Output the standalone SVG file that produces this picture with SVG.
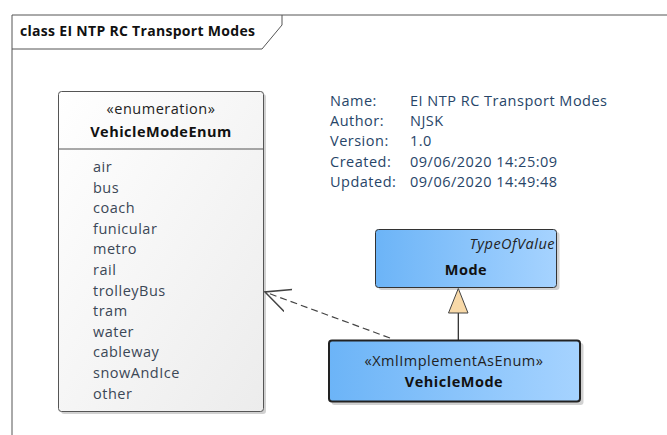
<svg xmlns="http://www.w3.org/2000/svg" width="667" height="435" viewBox="0 0 667 435">
<defs>
<linearGradient id="gEnum" x1="0" y1="0" x2="1" y2="1"><stop offset="0" stop-color="#ffffff"/><stop offset="1" stop-color="#ececec"/></linearGradient>
<linearGradient id="gBlue" x1="0" y1="0" x2="1" y2="0"><stop offset="0" stop-color="#6cb4f7"/><stop offset="1" stop-color="#a6d3ff"/></linearGradient>
<marker id="open" viewBox="0 0 20 20" refX="19" refY="10" markerWidth="26" markerHeight="26" markerUnits="userSpaceOnUse" orient="auto">
<path d="M0,1 L19,10 L0,19" fill="none" stroke="#444" stroke-width="1.2"/>
</marker>
</defs>
<style>
text{font-family:"Open Sans","Liberation Sans",sans-serif;font-size:14.5px;letter-spacing:0.5px}
.b{font-weight:bold}
.attr{fill:#3b4756}
.note{fill:#274568}
.c{text-anchor:middle}
.shadow{fill:#000;opacity:0.18}
</style>
<rect width="667" height="435" fill="#ffffff"/>
<g id="frame">
<path d="M12,435 L12,15 L667,15" fill="none" stroke="#555" stroke-width="1"/>
<path d="M12,49 L262,49 L282,25 L282,15" fill="none" stroke="#555" stroke-width="1"/>
<text x="20" y="36" class="b" style="font-size:14px;letter-spacing:0.3px;fill:#111">class EI NTP RC Transport Modes</text>
</g>
<g id="notes">
<text class="note" x="330" y="106">Name:</text><text class="note" x="410" y="106">EI NTP RC Transport Modes</text>
<text class="note" x="330" y="126">Author:</text><text class="note" x="410" y="126">NJSK</text>
<text class="note" x="330" y="146">Version:</text><text class="note" x="410" y="146">1.0</text>
<text class="note" x="330" y="167">Created:</text><text class="note" x="410" y="167">09/06/2020 14:25:09</text>
<text class="note" x="330" y="187">Updated:</text><text class="note" x="410" y="187">09/06/2020 14:49:48</text>
</g>
<g id="VehicleModeEnum">
<rect x="61" y="94" width="205" height="320" rx="3" class="shadow"/>
<rect x="58.5" y="91.5" width="205" height="320" rx="3" fill="url(#gEnum)" stroke="#555" stroke-width="1"/>
<line x1="58.5" y1="149" x2="263.5" y2="149" stroke="#555" stroke-width="1"/>
<text x="161" y="114" class="c" style="fill:#222">«enumeration»</text>
<text x="161" y="137" class="c b" style="fill:#111">VehicleModeEnum</text>
<text class="attr" x="93" y="172">air</text>
<text class="attr" x="93" y="192.6">bus</text>
<text class="attr" x="93" y="213.2">coach</text>
<text class="attr" x="93" y="233.8">funicular</text>
<text class="attr" x="93" y="254.4">metro</text>
<text class="attr" x="93" y="275">rail</text>
<text class="attr" x="93" y="295.6">trolleyBus</text>
<text class="attr" x="93" y="316.2">tram</text>
<text class="attr" x="93" y="336.8">water</text>
<text class="attr" x="93" y="357.4">cableway</text>
<text class="attr" x="93" y="378">snowAndIce</text>
<text class="attr" x="93" y="398.6">other</text>
</g>
<g id="Mode">
<rect x="378.5" y="232" width="181" height="58" rx="3" class="shadow"/>
<rect x="375.5" y="229.5" width="181" height="58" rx="3" fill="url(#gBlue)" stroke="#333" stroke-width="1"/>
<text x="555" y="249" style="font-style:italic;text-anchor:end;fill:#222">TypeOfValue</text>
<text x="466" y="275" class="c b" style="fill:#111">Mode</text>
</g>
<g id="VehicleMode">
<rect x="331.5" y="343" width="252" height="62" rx="3" class="shadow"/>
<rect x="329" y="340.5" width="251" height="61" rx="3" fill="url(#gBlue)" stroke="#222" stroke-width="2"/>
<text x="454" y="366" class="c" style="fill:#222">«XmlImplementAsEnum»</text>
<text x="454" y="387" class="c b" style="fill:#111">VehicleMode</text>
</g>
<g id="connectors">
<line x1="390" y1="338" x2="265" y2="292" stroke="#444" stroke-width="1.2" stroke-dasharray="7,4" marker-end="url(#open)"/>
<line x1="458.3" y1="313" x2="458.3" y2="340" stroke="#222" stroke-width="1.2"/>
<polygon points="458.3,288.5 448.5,313 468,313" fill="#f8d9a8" stroke="#444" stroke-width="1"/>
</g>
</svg>
